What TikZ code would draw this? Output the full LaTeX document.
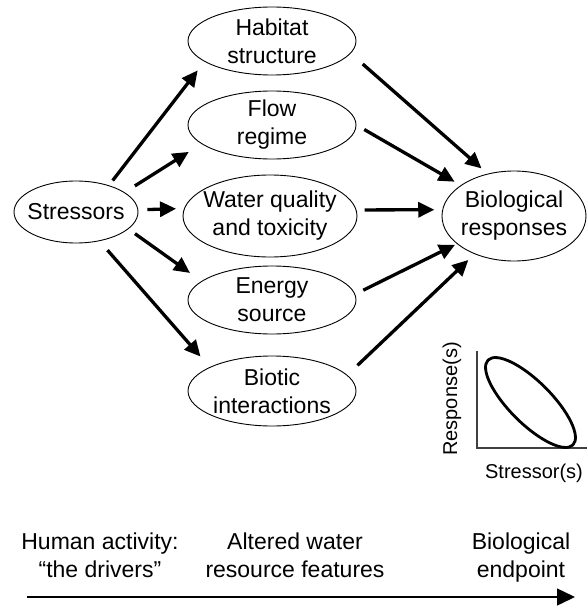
\documentclass[tikz,border=0pt]{standalone}
\usepackage{fontspec}
\setmainfont{Liberation Sans}
\usetikzlibrary{arrows.meta,shapes.geometric}

\tikzset{
  bub/.style={ellipse, draw, line width=0.9pt, inner sep=0pt},
  txt/.style={align=center, font=\fontsize{23}{28}\selectfont, inner sep=0pt},
  arr/.style={-{Triangle[length=16pt,width=15pt]}, line width=3.3pt},
}

\begin{document}
\begin{tikzpicture}[x=1pt, y=-1pt]
  \useasboundingbox (0,0) rectangle (587,607);

  % Ellipses
  \node[bub, minimum width=124pt, minimum height=62pt, label={[txt]center:Stressors}] (stress) at (76,212) {};
  \node[bub, minimum width=168pt, minimum height=68pt, label={[txt]center:{Habitat\\structure}}] (hab) at (272,41) {};
  \node[bub, minimum width=168pt, minimum height=68pt, label={[txt]center:{Flow\\regime}}] (flow) at (272,125) {};
  \node[bub, minimum width=174pt, minimum height=82pt, label={[txt]center:{Water quality\\and toxicity}}] (wq) at (270,216) {};
  \node[bub, minimum width=168pt, minimum height=68pt, label={[txt]center:{Energy\\source}}] (energy) at (272,300) {};
  \node[bub, minimum width=168pt, minimum height=70pt, label={[txt]center:{Biotic\\interactions}}] (biotic) at (272,391) {};
  \node[bub, minimum width=144pt, minimum height=90pt, label={[txt]center:{Biological\\responses}}] (bio) at (514,216) {};

  % Arrows
  \foreach \from/\fa/\to/\ta/\s/\t in {stress/39/hab/197.3/6/11, stress/22.1/flow/195.1/12/15,
      stress/2.4/wq/175.8/9/8, stress/-18.7/energy/165.3/8/14, stress/-51.7/biotic/159.8/12/14,
      hab/-9.8/bio/122.3/16/8, flow/0.6/bio/150/9/7, wq/4.2/bio/175/8/8,
      energy/4.3/bio/206.2/9/2, biotic/12.9/bio/224.4/14/8.5} {
    \draw[arr, shorten <=\s pt, shorten >=\t pt] (\from.\fa) -- (\to.\ta);
  }

  % Inset plot
  \draw[line width=1.4pt, black!75] (477,351) -- (477,448) -- (587,448);
  \draw[line width=2.8pt, rotate around={-45:(530.5,402.5)}] (530.5,402.5) ellipse (60 and 21);
  \node[font=\fontsize{20}{24}\selectfont, rotate=90, inner sep=0pt] (resp) at (452,399) {Response(s)};
  \node[font=\fontsize{20}{24}\selectfont, inner sep=0pt] (strs) at (534,473) {Stressor(s)};

  % Timeline
  \node[txt, anchor=north] (human) at (100,533) {Human activity:\\“the drivers”};
  \node[txt, anchor=north] (altered) at (295,533) {Altered water\\resource features};
  \node[txt, anchor=north] (endpt) at (521,533) {Biological\\endpoint};
  \coordinate (t0) at (27,597);
  \coordinate (t1) at (575,597);
  \draw[line width=1.5pt, -{Triangle[length=18pt,width=17pt]}] (t0) -- (t1);
\end{tikzpicture}
\end{document}
